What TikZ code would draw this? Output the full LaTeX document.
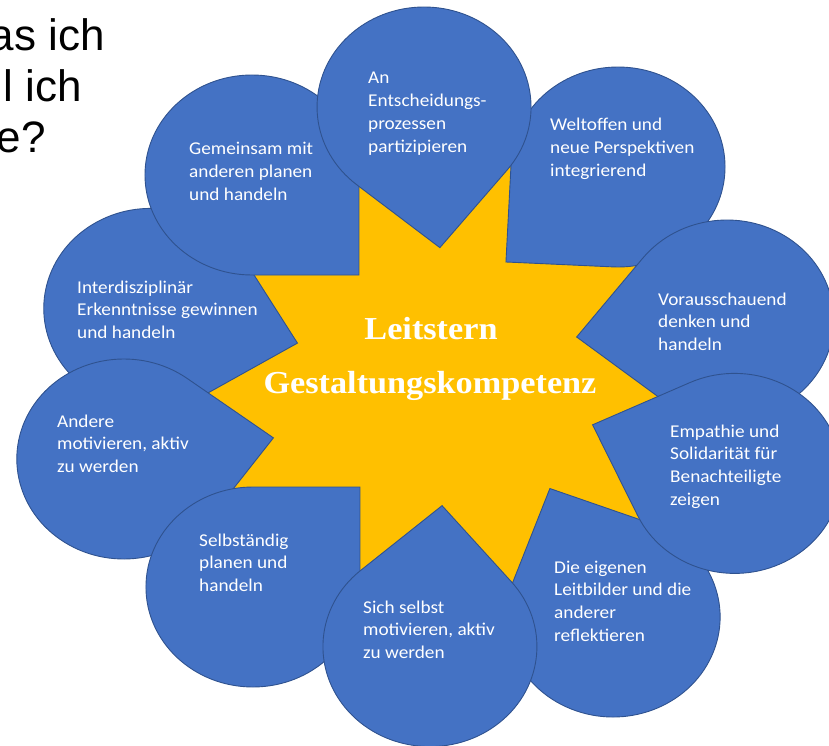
\documentclass[tikz,border=0pt]{standalone}
\usepackage{fontspec}
\setmainfont{Carlito}
\newfontfamily\tdfont[FakeStretch=1.07]{Carlito}
\newfontfamily\starfont[FakeStretch=1.07]{Liberation Serif}
\newfontfamily\titlefont{Liberation Sans}
\usetikzlibrary{backgrounds}
\definecolor{tdblue}{HTML}{4472C4}
\definecolor{tdedge}{HTML}{2F528F}
\definecolor{staryellow}{HTML}{FFC000}
\tikzset{
  teardrop/.style={fill=tdblue, draw=tdedge, line width=0.9pt},
  tdtext/.style={font=\tdfont\fontsize{18}{22}\selectfont, text=white, inner sep=0pt, anchor=base west},
  startext/.style={font=\starfont\bfseries\fontsize{32}{38}\selectfont, text=white, inner sep=0pt, anchor=base},
  titletext/.style={font=\titlefont\fontsize{44}{50}\selectfont, text=black, inner sep=0pt, anchor=base east},
}
% #1 name, #2 centre u, #3 centre v (pixels, y down, unstretched), #4 tip angle
\newcommand\tdshape[4]{%
  \begin{scope}[xscale=1.07]
    \begin{scope}[shift={(#2,-#3)}, rotate=#4]
      \path[teardrop] (45:100) arc[start angle=45, end angle=315, radius=100]
        -- (141.42,0) coordinate (#1tip) -- cycle;
      \coordinate (#1c) at (0,0);
    \end{scope}
  \end{scope}}
% #1 name, #2 x, #3 first baseline y, #4 lines
\newcommand\tdlabel[4]{%
  \foreach \lbl [count=\k] in {#4} {
    \node[tdtext] (#1-\k) at (#2,{-(#3)-22.7*(\k-1)}) {\lbl};
  }}
\begin{document}
\begin{tikzpicture}[x=1pt,y=1pt]
\useasboundingbox (0,0) rectangle (829,-746);
\clip (0,0) rectangle (829,-746);

% title fragment
\node[titletext] (ttl1) at (105,-51) {as ich};
\node[titletext] (ttl2) at (82,-102) {l ich};
\node[titletext] (ttl3) at (46,-153) {e?};

% teardrops (back to front)
\tdshape{T9}{140.9}{308.4}{-14.2}
\tdshape{T2}{577.6}{167}{-137.8}
\tdshape{T3}{679.3}{320}{186.9}
\tdshape{T5}{573}{617}{114.7}
\tdshape{T8}{115.7}{459}{8.6}
\tdshape{T10}{235.5}{175}{-45}
\tdshape{T7}{236.4}{587}{45}
\tdshape{T4}{686.6}{473.4}{159.9}
\tdshape{T6}{401.8}{646.6}{85.4}
\tdshape{T1}{396.3}{107}{-84}

% star behind
\begin{scope}[on background layer]
  \fill[staryellow] (T10tip) -- (354,-180) -- (T1tip) -- (515,-154) -- (T2tip)
    -- (645,-258) -- (T3tip) -- (666,-398) -- (T4tip) -- (649,-526) -- (T5tip)
    -- (518,-594) -- (T6tip) -- (358,-579) -- (T7tip) -- (223,-495) -- (T8tip)
    -- (197,-393.5) -- (T9tip) -- (244.5,-268) -- cycle;
\end{scope}

% labels
\tdlabel{L1}{368}{84}{An, Entscheidungs-, prozessen, partizipieren}
\tdlabel{L2}{550}{131}{Weltoffen und, neue Perspektiven, integrierend}
\tdlabel{L3}{658}{305}{Vorausschauend, denken und, handeln}
\tdlabel{L4}{670}{437}{Empathie und, Solidarität für, Benachteiligte, zeigen}
\tdlabel{L5}{554}{573}{Die eigenen, Leitbilder und die, anderer, reflektieren}
\tdlabel{L6}{363}{613}{Sich selbst, {motivieren, aktiv}, zu werden}
\tdlabel{L7}{199}{546}{Selbständig, planen und, handeln}
\tdlabel{L8}{57}{427}{Andere, {motivieren, aktiv}, zu werden}
\tdlabel{L9}{77}{293}{Interdisziplinär, Erkenntnisse gewinnen, und handeln}
\tdlabel{L10}{189}{155}{Gemeinsam mit, anderen planen, und handeln}

\node[startext] (star1) at (431,-339) {Leitstern};
\node[startext] (star2) at (430,-393) {Gestaltungskompetenz};
\end{tikzpicture}
\end{document}
